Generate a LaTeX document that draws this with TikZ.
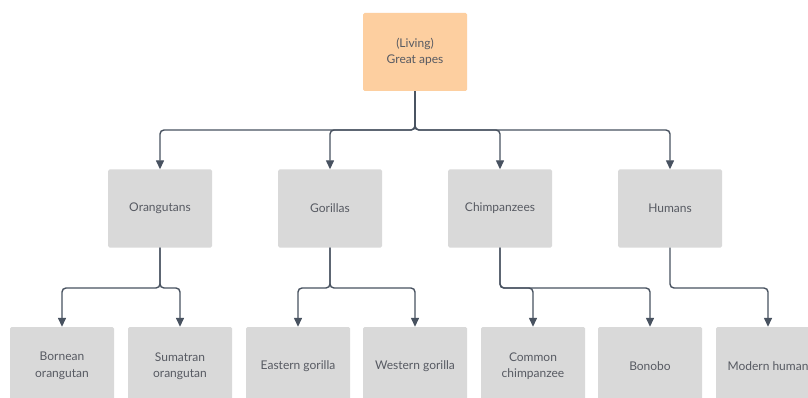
\documentclass[tikz,border=0pt]{standalone}
\usepackage{fontspec}
\setmainfont{Lato}
\usetikzlibrary{arrows.meta}
\definecolor{boxgray}{HTML}{D9D9D9}
\definecolor{rootfill}{HTML}{FDCFA0}
\definecolor{linecol}{HTML}{485260}
\definecolor{txtcol}{HTML}{575A62}
\tikzset{
  taxon/.style={draw=none, fill=boxgray, rounded corners=1.5pt,
    minimum width=104pt, minimum height=78pt, align=center,
    text=txtcol, font=\fontsize{12pt}{16.5pt}\selectfont},
  rootbox/.style={taxon, fill=rootfill},
  conn/.style={draw=linecol, line width=1.4pt, rounded corners=4pt,
    -{Triangle[length=9pt,width=8pt]}},
}
\begin{document}
\begin{tikzpicture}[x=1pt,y=-1pt]
\useasboundingbox (0,0) rectangle (808,398);
\clip (0,0) rectangle (808,398);
\fill[white] (0,0) rectangle (808,398);

% root
\node[rootbox] (root) at (415,52) {(Living)\\Great apes};

% families
\node[taxon] (orang) at (160,208.5) {Orangutans};
\node[taxon] (goril) at (330,208.5) {Gorillas};
\node[taxon] (chimp) at (500,208.5) {Chimpanzees};
\node[taxon] (human) at (670,208.5) {Humans};

% species
\node[taxon] (born) at (62,366) {Bornean\\orangutan};
\node[taxon] (suma) at (180,366) {Sumatran\\orangutan};
\node[taxon] (east) at (298,366) {Eastern gorilla};
\node[taxon] (west) at (415,366) {Western gorilla};
\node[taxon] (comm) at (533,366) {Common\\chimpanzee};
\node[taxon] (bono) at (650,366) {Bonobo};
\node[taxon] (mode) at (768,366) {Modern human};

% bus levels
\coordinate (row2) at (0,130);
\coordinate (row3) at (0,288);

% root to families
\foreach \t in {orang,goril,chimp,human}
  \draw[conn] (root.south) -- (root.south |- row2) -| (\t.north);

% families to species
\draw[conn] (orang.south) -- (orang.south |- row3) -| (born.north);
\draw[conn] (orang.south) -- (orang.south |- row3) -| (suma.north);
\draw[conn] (goril.south) -- (goril.south |- row3) -| (east.north);
\draw[conn] (goril.south) -- (goril.south |- row3) -| (west.north);
\draw[conn] (chimp.south) -- (chimp.south |- row3) -| (comm.north);
\draw[conn] (chimp.south) -- (chimp.south |- row3) -| (bono.north);
\draw[conn] (human.south) -- (human.south |- row3) -| (mode.north);
\end{tikzpicture}
\end{document}
